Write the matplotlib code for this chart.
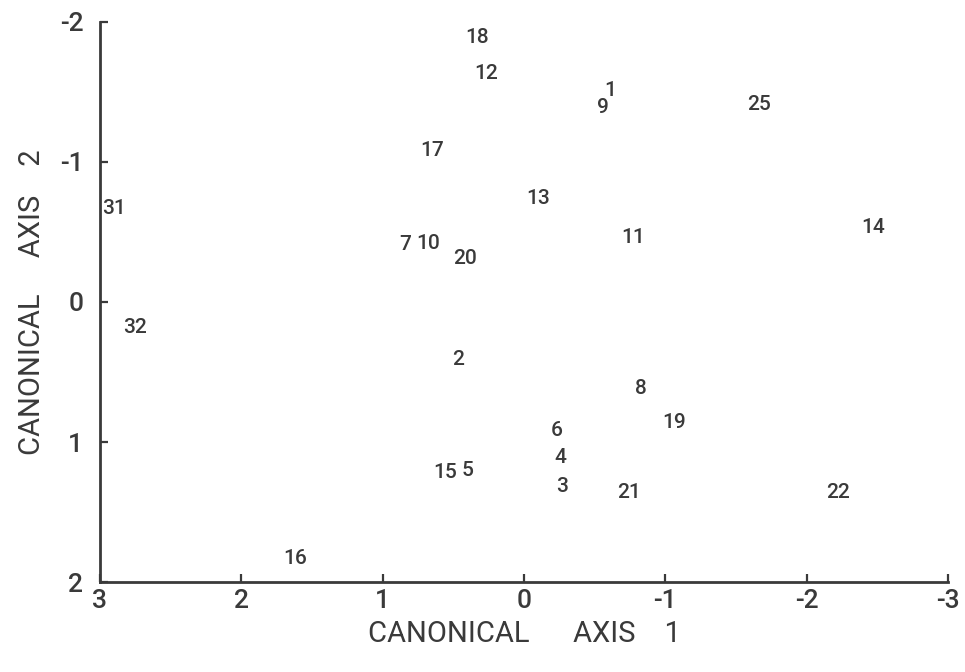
#!/usr/bin/env python3
#
#   Canonical variates plot: site numbers placed on the first two axes
#

import matplotlib
matplotlib.use("Agg")
import matplotlib.pyplot as plt

plt.rcParams["font.family"] = ["Roboto", "DejaVu Sans"]
plt.rcParams["font.weight"] = "medium"
plt.rcParams["axes.unicode_minus"] = False

INK = "#3a3a3a"

# Site labels and their scores on canonical axes 1 and 2
labels = ["18", "12", "1", "9", "25", "17", "31", "13", "14", "7", "10", "11",
          "20", "32", "2", "8", "19", "6", "4", "3", "15", "5", "21", "22", "16"]
axis1 = [0.33, 0.27, -0.61, -0.56, -1.66, 0.65, 2.90, -0.10, -2.47, 0.84, 0.68,
         -0.77, 0.42, 2.75, 0.47, -0.83, -1.06, -0.23, -0.26, -0.27, 0.56, 0.40,
         -0.74, -2.22, 1.62]
axis2 = [-1.89, -1.63, -1.51, -1.39, -1.41, -1.08, -0.67, -0.74, -0.53, -0.41,
         -0.42, -0.46, -0.31, 0.18, 0.41, 0.62, 0.86, 0.92, 1.11, 1.32, 1.22,
         1.20, 1.36, 1.36, 1.83]

xticks = [3, 2, 1, 0, -1, -2, -3]
yticks = [-2, -1, 0, 1, 2]

fig = plt.figure(figsize=(9.65, 6.72), dpi=100)
ax = fig.add_axes([0.1036, 0.1339, 0.8788, 0.8334])

for lab, x, y in zip(labels, axis1, axis2):
    ax.text(x, y, lab, ha="center", va="center", fontsize=15, color=INK)

ax.set_xlim(3, -3)
ax.set_ylim(2, -2)
ax.set_xticks(xticks)
ax.set_yticks(yticks)

for side in ["top", "right"]:
    ax.spines[side].set_visible(False)
for side in ["left", "bottom"]:
    ax.spines[side].set_linewidth(2)
    ax.spines[side].set_color(INK)

ax.tick_params(direction="in", length=6, width=1.6, color=INK,
               labelsize=19, labelcolor=INK, pad=5)
ax.tick_params(axis="y", pad=12)

ax.set_xlabel("CANONICAL      AXIS    1", fontsize=21, color=INK, labelpad=5)
ax.set_ylabel("CANONICAL     AXIS    2", fontsize=21, color=INK, labelpad=10)

fig.savefig("out.png", dpi=100)
